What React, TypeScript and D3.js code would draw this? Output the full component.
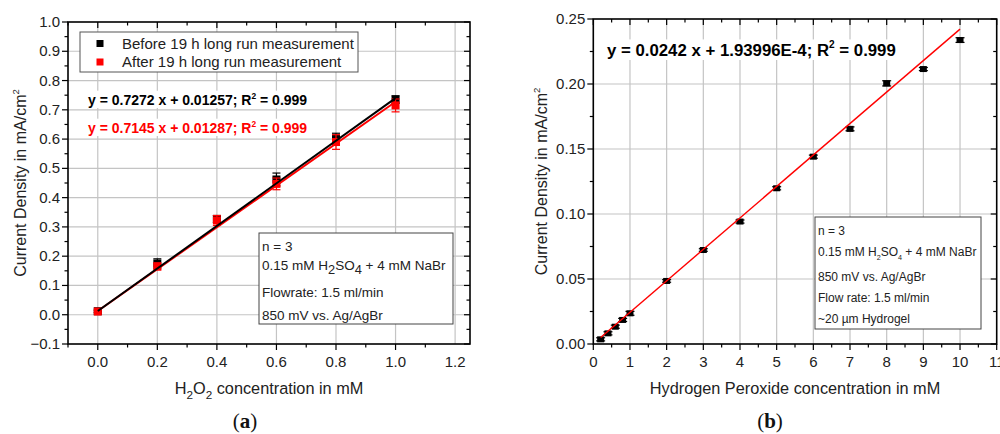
import { useEffect, useRef } from "react";
import * as d3 from "d3";

// ---- panel (a): before / after long run ----
const concA = [0, 0.2, 0.4, 0.6, 0.8, 1.0];
const beforeA = [0.012, 0.175, 0.327, 0.462, 0.602, 0.735];
const beforeErrA = [0.004, 0.016, 0.012, 0.022, 0.018, 0.013];
const afterA = [0.011, 0.165, 0.322, 0.447, 0.59, 0.715];
const afterErrA = [0.004, 0.012, 0.017, 0.02, 0.025, 0.022];
const fitBeforeA = [0.7272, 0.01257]; // slope, intercept
const fitAfterA = [0.7145, 0.01287];
const legendA = ["Before 19 h long run measurement", "After 19 h long run measurement"];
const yTicksA = [-0.1, 0, 0.1, 0.2, 0.3, 0.4, 0.5, 0.6, 0.7, 0.8, 0.9, 1.0];
const xTicksA = [0, 0.2, 0.4, 0.6, 0.8, 1.0, 1.2];

// ---- panel (b): calibration ----
const concB = [0.2, 0.4, 0.6, 0.8, 1, 2, 3, 4, 5, 6, 7, 8, 9, 10];
const currentB = [0.0036, 0.0082, 0.0133, 0.0185, 0.0236, 0.0485, 0.0723, 0.0942, 0.1198, 0.1441, 0.1655, 0.2005, 0.2115, 0.2338];
const errB = [0.0012, 0.0012, 0.0012, 0.0012, 0.0015, 0.001, 0.001, 0.0012, 0.0012, 0.0012, 0.0015, 0.002, 0.0012, 0.0018];
const fitB = [0.0242, 1.93996e-4];
const yTicksB = [0, 0.05, 0.1, 0.15, 0.2, 0.25];
const xTicksB = [0, 1, 2, 3, 4, 5, 6, 7, 8, 9, 10, 11];

const SANS = "'Liberation Sans', Arial, sans-serif";
const GRID = "#c4c4c4";

type Seg = { t: string; sub?: boolean; sup?: boolean };

// writes a run of text with sub/superscripts into a <text>
function rich(text: any, segs: Seg[], size: number, small = 0.72) {
  let shift = 0;
  segs.forEach((s) => {
    const target = s.sub ? size * 0.3 : s.sup ? -size * 0.45 : 0;
    const ts = text.append("tspan").text(s.t).attr("dy", target - shift);
    if (s.sub || s.sup) ts.attr("font-size", size * small);
    shift = target;
  });
}

export default function App() {
  const ref = useRef<SVGSVGElement>(null);

  useEffect(() => {
    const svg = d3.select(ref.current);
    svg.selectAll("*").remove();
    svg.append("rect").attr("width", 1000).attr("height", 434).attr("fill", "#fff");

    // generic frame drawing for one panel
    function panel(opts: any) {
      const { x, y, xTicks, yTicks, xMinor, yMinor, xFmt, yFmt } = opts;
      const g = svg.append("g");
      const [x0, x1] = x.range();
      const [y0, y1] = y.range();

      // grid
      g.selectAll(".gx")
        .data(opts.xGrid)
        .join("line")
        .attr("x1", (d: number) => x(d))
        .attr("x2", (d: number) => x(d))
        .attr("y1", y0)
        .attr("y2", y1)
        .attr("stroke", GRID)
        .attr("stroke-width", 1.2);
      g.selectAll(".gy")
        .data(opts.yGrid)
        .join("line")
        .attr("y1", (d: number) => y(d))
        .attr("y2", (d: number) => y(d))
        .attr("x1", x0)
        .attr("x2", x1)
        .attr("stroke", GRID)
        .attr("stroke-width", 1.2);

      const tk = g.append("g").attr("stroke", "#000").attr("stroke-width", 1.2);
      // bottom (out) and top (in) ticks
      xMinor.forEach((v: number) => {
        const major = xTicks.some((t: number) => Math.abs(t - v) < 1e-9);
        const L = major ? 6 : 3.5;
        tk.append("line").attr("x1", x(v)).attr("x2", x(v)).attr("y1", y0).attr("y2", y0 + L);
        tk.append("line").attr("x1", x(v)).attr("x2", x(v)).attr("y1", y1).attr("y2", y1 + L);
      });
      yMinor.forEach((v: number) => {
        const major = yTicks.some((t: number) => Math.abs(t - v) < 1e-9);
        const L = major ? 6 : 3.5;
        tk.append("line").attr("y1", y(v)).attr("y2", y(v)).attr("x1", x0).attr("x2", x0 - L);
        tk.append("line").attr("y1", y(v)).attr("y2", y(v)).attr("x1", x1).attr("x2", x1 - L);
      });

      // tick labels
      g.selectAll(".xl")
        .data(xTicks)
        .join("text")
        .attr("x", (d: number) => x(d))
        .attr("y", y0 + 23)
        .attr("text-anchor", "middle")
        .attr("font-family", SANS)
        .attr("font-size", 15)
        .attr("fill", "#222")
        .text((d: number) => xFmt(d));
      g.selectAll(".yl")
        .data(yTicks)
        .join("text")
        .attr("x", x0 - 8)
        .attr("y", (d: number) => y(d) + 5)
        .attr("text-anchor", "end")
        .attr("font-family", SANS)
        .attr("font-size", 15)
        .attr("fill", "#222")
        .text((d: number) => yFmt(d));

      // frame
      g.append("rect")
        .attr("x", x0)
        .attr("y", y1)
        .attr("width", x1 - x0)
        .attr("height", y0 - y1)
        .attr("fill", "none")
        .attr("stroke", "#000")
        .attr("stroke-width", 1.6);

      // axis titles
      const yt = g
        .append("text")
        .attr("transform", `translate(${opts.yTitleX},${(y0 + y1) / 2}) rotate(-90)`)
        .attr("text-anchor", "middle")
        .attr("font-family", SANS)
        .attr("font-size", 16)
        .attr("fill", "#222");
      rich(yt, [{ t: "Current Density in mA/cm" }, { t: "2", sup: true }], 16, 0.6);
      const xt = g
        .append("text")
        .attr("x", (x0 + x1) / 2)
        .attr("y", y0 + 50)
        .attr("text-anchor", "middle")
        .attr("font-family", SANS)
        .attr("font-size", 16.3)
        .attr("fill", "#222");
      rich(xt, opts.xTitle, 16.3, 0.72);

      const lab = svg
        .append("text")
        .attr("x", opts.labelX)
        .attr("y", 428)
        .attr("text-anchor", "middle")
        .attr("font-family", "'Liberation Serif', 'DejaVu Serif', serif")
        .attr("font-size", 21)
        .attr("fill", "#111");
      lab.append("tspan").text("(");
      lab.append("tspan").attr("font-weight", "bold").text(opts.label);
      lab.append("tspan").text(")");
      return g;
    }

    function infoBox(g: any, bx: number, by: number, bw: number, bh: number, lines: Seg[][], ys: number[], size: number, small: number) {
      g.append("rect")
        .attr("x", bx)
        .attr("y", by)
        .attr("width", bw)
        .attr("height", bh)
        .attr("fill", "#fff")
        .attr("stroke", "#444")
        .attr("stroke-width", 1);
      lines.forEach((segs, i) => {
        const t = g
          .append("text")
          .attr("x", bx + 3)
          .attr("y", ys[i])
          .attr("font-family", SANS)
          .attr("font-size", size)
          .attr("fill", "#222");
        rich(t, segs, size, small);
      });
    }

    function equation(g: any, ex: number, ey: number, coef: string, color: string, size: number) {
      const bg = g.append("rect").attr("fill", "#fff");
      const t = g
        .append("text")
        .attr("x", ex)
        .attr("y", ey)
        .attr("font-family", SANS)
        .attr("font-size", size)
        .attr("font-weight", "bold")
        .attr("fill", color);
      rich(t, [{ t: coef + "; R" }, { t: "2", sup: true }, { t: " = 0.999" }], size, 0.6);
      const bb = (t.node() as SVGTextElement).getBBox();
      bg.attr("x", bb.x - 2).attr("y", bb.y).attr("width", bb.width + 4).attr("height", bb.height);
    }

    function errorBars(g: any, x: any, y: any, xs: number[], ys: number[], es: number[], color: string, cap: number) {
      xs.forEach((v, i) => {
        const cx = x(v);
        const top = y(ys[i] + es[i]);
        const bot = y(ys[i] - es[i]);
        g.append("line").attr("x1", cx).attr("x2", cx).attr("y1", top).attr("y2", bot).attr("stroke", color).attr("stroke-width", 1.2);
        [top, bot].forEach((yy) =>
          g.append("line").attr("x1", cx - cap).attr("x2", cx + cap).attr("y1", yy).attr("y2", yy).attr("stroke", color).attr("stroke-width", 1.2)
        );
      });
    }

    function squares(g: any, x: any, y: any, xs: number[], ys: number[], color: string, w: number, h: number) {
      g.selectAll(null)
        .data(xs)
        .join("rect")
        .attr("x", (d: number) => x(d) - w / 2)
        .attr("y", (_: number, i: number) => y(ys[i]) - h / 2)
        .attr("width", w)
        .attr("height", h)
        .attr("fill", color);
    }

    // ================= panel (a) =================
    const xA = d3.scaleLinear().domain([-0.1, 1.25]).range([68, 470]);
    const yA = d3.scaleLinear().domain([-0.1, 1.0]).range([344, 22]);
    const gA = panel({
      x: xA,
      y: yA,
      xTicks: xTicksA,
      yTicks: yTicksA,
      xMinor: d3.range(0, 13).map((i) => -0.1 + i * 0.1),
      yMinor: d3.range(0, 23).map((i) => -0.1 + i * 0.05),
      xGrid: xTicksA,
      yGrid: yTicksA.slice(1, -1),
      xFmt: d3.format(".1f"),
      yFmt: d3.format(".1f"),
      yTitleX: 26,
      xTitle: [{ t: "H" }, { t: "2", sub: true }, { t: "O" }, { t: "2", sub: true }, { t: " concentration in mM" }],
      label: "a",
      labelX: 245,
    });

    // legend
    gA.append("rect").attr("x", 80).attr("y", 32).attr("width", 278).attr("height", 40).attr("fill", "#fff").attr("stroke", "#555").attr("stroke-width", 1);
    legendA.forEach((name, i) => {
      const cy = 43.5 + i * 18.5;
      gA.append("rect").attr("x", 96.5).attr("y", cy - 3.5).attr("width", 7).attr("height", 7).attr("fill", i ? "#f00" : "#000");
      gA.append("text").attr("x", 122).attr("y", cy + 5).attr("font-family", SANS).attr("font-size", 15).attr("fill", "#222").text(name);
    });

    equation(gA, 88, 105, `y = ${fitBeforeA[0]} x + ${fitBeforeA[1]}`, "#000", 14);
    equation(gA, 88, 133, `y = ${fitAfterA[0]} x + ${fitAfterA[1]}`, "#f00", 14);

    infoBox(
      gA,
      259,
      233,
      194,
      91,
      [
        [{ t: "n = 3" }],
        [{ t: "0.15 mM H" }, { t: "2", sub: true }, { t: "SO" }, { t: "4", sub: true }, { t: " + 4 mM NaBr" }],
        [{ t: "Flowrate: 1.5 ml/min" }],
        [{ t: "850 mV vs. Ag/AgBr" }],
      ],
      [251, 270, 297, 320],
      13.5,
      0.95
    );

    errorBars(gA, xA, yA, concA, beforeA, beforeErrA, "#000", 4);
    squares(gA, xA, yA, concA, beforeA, "#000", 8, 8);
    errorBars(gA, xA, yA, concA, afterA, afterErrA, "#f00", 4);
    squares(gA, xA, yA, concA, afterA, "#f00", 8, 8);

    const lineA = (fit: number[]) =>
      d3.line<number>().x((d) => xA(d)).y((d) => yA(fit[0] * d + fit[1]))([concA[0], concA[concA.length - 1]]);
    gA.append("path").attr("d", lineA(fitAfterA)).attr("stroke", "#f00").attr("stroke-width", 2).attr("fill", "none");
    gA.append("path").attr("d", lineA(fitBeforeA)).attr("stroke", "#000").attr("stroke-width", 2).attr("fill", "none");

    // ================= panel (b) =================
    const xB = d3.scaleLinear().domain([0, 11]).range([593.3, 996.7]);
    const yB = d3.scaleLinear().domain([0, 0.25]).range([344, 19]);
    const gB = panel({
      x: xB,
      y: yB,
      xTicks: xTicksB,
      yTicks: yTicksB,
      xMinor: d3.range(0, 23).map((i) => i * 0.5),
      yMinor: d3.range(0, 11).map((i) => i * 0.025),
      xGrid: xTicksB.slice(1, -1),
      yGrid: yTicksB.slice(1, -1),
      xFmt: d3.format("d"),
      yFmt: d3.format(".2f"),
      yTitleX: 547,
      xTitle: [{ t: "Hydrogen Peroxide concentration in mM" }],
      label: "b",
      labelX: 770,
    });

    equation(gB, 607, 56, `y = ${fitB[0]} x + 1.93996E-4`, "#000", 16.8);

    infoBox(
      gB,
      815,
      217,
      166,
      112,
      [
        [{ t: "n = 3" }],
        [{ t: "0.15 mM H" }, { t: "2", sub: true }, { t: "SO" }, { t: "4", sub: true }, { t: " + 4 mM NaBr" }],
        [{ t: "850 mV vs. Ag/AgBr" }],
        [{ t: "Flow rate: 1.5 ml/min" }],
        [{ t: "~20 µm Hydrogel" }],
      ],
      [235, 256, 281, 302, 323],
      12,
      0.6
    );

    errorBars(gB, xB, yB, concB, currentB, errB, "#000", 4.5);
    squares(gB, xB, yB, concB, currentB, "#000", 7, 6);
    const lineB = d3.line<number>().x((d) => xB(d)).y((d) => yB(fitB[0] * d + fitB[1]))([concB[0], concB[concB.length - 1]]);
    gB.append("path").attr("d", lineB).attr("stroke", "#f00").attr("stroke-width", 1.4).attr("fill", "none");
  }, []);

  return (
    <svg
      ref={ref}
      width={1000}
      height={434}
      style={{ position: "absolute", left: 0, top: 0, display: "block" }}
    />
  );
}
